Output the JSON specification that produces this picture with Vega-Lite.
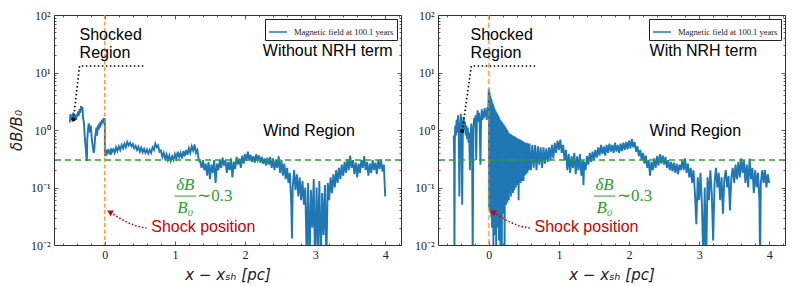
{
"$schema":"https://vega.github.io/schema/vega-lite/v6.json",
"padding":{"left":8,"top":8,"right":0,"bottom":0},
"spacing":10,
"datasets":{
"L":[{"x":-0.5,"y":1.35},{"x":-0.49,"y":1.9},{"x":-0.48,"y":1.5},{"x":-0.47,"y":1.8},{"x":-0.46,"y":1.4},{"x":-0.45,"y":2.0},{"x":-0.44,"y":1.6},{"x":-0.43,"y":1.45},{"x":-0.42,"y":1.8},{"x":-0.41,"y":1.5},{"x":-0.4,"y":1.9},{"x":-0.39,"y":1.7},{"x":-0.38,"y":2.1},{"x":-0.37,"y":1.8},{"x":-0.36,"y":2.3},{"x":-0.35,"y":2.0},{"x":-0.34,"y":2.6},{"x":-0.33,"y":2.2},{"x":-0.32,"y":2.5},{"x":-0.31,"y":1.6},{"x":-0.3,"y":1.4},{"x":-0.29,"y":0.9},{"x":-0.28,"y":0.6},{"x":-0.27,"y":0.45},{"x":-0.26,"y":0.3},{"x":-0.255,"y":0.3},{"x":-0.25,"y":0.7},{"x":-0.24,"y":1.0},{"x":-0.23,"y":1.3},{"x":-0.22,"y":1.1},{"x":-0.21,"y":0.9},{"x":-0.2,"y":1.2},{"x":-0.19,"y":0.8},{"x":-0.18,"y":0.6},{"x":-0.17,"y":0.5},{"x":-0.16,"y":0.4},{"x":-0.15,"y":0.45},{"x":-0.14,"y":0.7},{"x":-0.13,"y":0.9},{"x":-0.12,"y":1.1},{"x":-0.11,"y":0.8},{"x":-0.1,"y":1.2},{"x":-0.09,"y":1.0},{"x":-0.08,"y":1.3},{"x":-0.07,"y":1.1},{"x":-0.06,"y":1.4},{"x":-0.05,"y":1.2},{"x":-0.04,"y":1.5},{"x":-0.03,"y":1.3},{"x":-0.02,"y":1.6},{"x":-0.01,"y":1.4},{"x":0.0,"y":1.6},{"x":0.001,"y":0.35},{"x":0.01,"y":0.42},{"x":0.02,"y":0.36},{"x":0.03,"y":0.45},{"x":0.04,"y":0.38},{"x":0.05,"y":0.47},{"x":0.06,"y":0.4},{"x":0.07,"y":0.44},{"x":0.08,"y":0.37},{"x":0.09,"y":0.48},{"x":0.1,"y":0.41},{"x":0.12,"y":0.46},{"x":0.14,"y":0.4},{"x":0.16,"y":0.5},{"x":0.18,"y":0.43},{"x":0.2,"y":0.52},{"x":0.22,"y":0.45},{"x":0.24,"y":0.55},{"x":0.26,"y":0.48},{"x":0.28,"y":0.58},{"x":0.3,"y":0.5},{"x":0.32,"y":0.62},{"x":0.34,"y":0.54},{"x":0.36,"y":0.6},{"x":0.38,"y":0.52},{"x":0.4,"y":0.57},{"x":0.42,"y":0.48},{"x":0.44,"y":0.53},{"x":0.46,"y":0.45},{"x":0.48,"y":0.51},{"x":0.5,"y":0.42},{"x":0.52,"y":0.49},{"x":0.54,"y":0.41},{"x":0.56,"y":0.47},{"x":0.58,"y":0.4},{"x":0.6,"y":0.46},{"x":0.62,"y":0.39},{"x":0.64,"y":0.45},{"x":0.66,"y":0.4},{"x":0.68,"y":0.5},{"x":0.7,"y":0.45},{"x":0.72,"y":0.58},{"x":0.74,"y":0.5},{"x":0.76,"y":0.54},{"x":0.78,"y":0.42},{"x":0.8,"y":0.44},{"x":0.82,"y":0.34},{"x":0.84,"y":0.4},{"x":0.86,"y":0.32},{"x":0.88,"y":0.38},{"x":0.9,"y":0.3},{"x":0.92,"y":0.36},{"x":0.94,"y":0.29},{"x":0.96,"y":0.35},{"x":0.98,"y":0.3},{"x":1.0,"y":0.38},{"x":1.02,"y":0.32},{"x":1.04,"y":0.42},{"x":1.06,"y":0.34},{"x":1.08,"y":0.4},{"x":1.1,"y":0.32},{"x":1.12,"y":0.43},{"x":1.14,"y":0.35},{"x":1.16,"y":0.45},{"x":1.18,"y":0.37},{"x":1.2,"y":0.48},{"x":1.22,"y":0.4},{"x":1.24,"y":0.52},{"x":1.26,"y":0.44},{"x":1.28,"y":0.56},{"x":1.3,"y":0.4},{"x":1.32,"y":0.45},{"x":1.34,"y":0.3},{"x":1.36,"y":0.28},{"x":1.38,"y":0.22},{"x":1.4,"y":0.3},{"x":1.42,"y":0.2},{"x":1.44,"y":0.26},{"x":1.46,"y":0.16},{"x":1.48,"y":0.28},{"x":1.5,"y":0.14},{"x":1.52,"y":0.25},{"x":1.54,"y":0.18},{"x":1.56,"y":0.3},{"x":1.58,"y":0.12},{"x":1.6,"y":0.26},{"x":1.62,"y":0.2},{"x":1.64,"y":0.3},{"x":1.66,"y":0.22},{"x":1.68,"y":0.33},{"x":1.7,"y":0.24},{"x":1.72,"y":0.3},{"x":1.74,"y":0.18},{"x":1.76,"y":0.28},{"x":1.78,"y":0.2},{"x":1.8,"y":0.32},{"x":1.82,"y":0.15},{"x":1.84,"y":0.28},{"x":1.86,"y":0.21},{"x":1.88,"y":0.34},{"x":1.9,"y":0.25},{"x":1.92,"y":0.32},{"x":1.94,"y":0.22},{"x":1.96,"y":0.36},{"x":1.98,"y":0.26},{"x":2.0,"y":0.38},{"x":2.02,"y":0.29},{"x":2.04,"y":0.42},{"x":2.06,"y":0.3},{"x":2.08,"y":0.37},{"x":2.1,"y":0.28},{"x":2.12,"y":0.35},{"x":2.14,"y":0.27},{"x":2.16,"y":0.38},{"x":2.18,"y":0.3},{"x":2.2,"y":0.36},{"x":2.22,"y":0.27},{"x":2.24,"y":0.34},{"x":2.26,"y":0.26},{"x":2.28,"y":0.32},{"x":2.3,"y":0.24},{"x":2.32,"y":0.33},{"x":2.34,"y":0.25},{"x":2.36,"y":0.34},{"x":2.38,"y":0.22},{"x":2.4,"y":0.32},{"x":2.42,"y":0.2},{"x":2.44,"y":0.3},{"x":2.46,"y":0.22},{"x":2.48,"y":0.35},{"x":2.5,"y":0.18},{"x":2.52,"y":0.3},{"x":2.54,"y":0.16},{"x":2.56,"y":0.26},{"x":2.58,"y":0.14},{"x":2.6,"y":0.22},{"x":2.62,"y":0.12},{"x":2.64,"y":0.18},{"x":2.66,"y":0.05},{"x":2.67,"y":0.013},{"x":2.68,"y":0.1},{"x":2.7,"y":0.2},{"x":2.72,"y":0.09},{"x":2.74,"y":0.17},{"x":2.76,"y":0.07},{"x":2.78,"y":0.15},{"x":2.8,"y":0.06},{"x":2.82,"y":0.13},{"x":2.84,"y":0.05},{"x":2.86,"y":0.1},{"x":2.88,"y":0.005},{"x":2.9,"y":0.12},{"x":2.92,"y":0.004},{"x":2.94,"y":0.09},{"x":2.96,"y":0.02},{"x":2.98,"y":0.14},{"x":3.0,"y":0.003},{"x":3.02,"y":0.1},{"x":3.04,"y":0.01},{"x":3.06,"y":0.13},{"x":3.08,"y":0.004},{"x":3.1,"y":0.08},{"x":3.12,"y":0.015},{"x":3.14,"y":0.11},{"x":3.16,"y":0.005},{"x":3.18,"y":0.12},{"x":3.2,"y":0.06},{"x":3.22,"y":0.15},{"x":3.24,"y":0.08},{"x":3.26,"y":0.17},{"x":3.28,"y":0.1},{"x":3.3,"y":0.2},{"x":3.32,"y":0.12},{"x":3.34,"y":0.22},{"x":3.36,"y":0.14},{"x":3.38,"y":0.25},{"x":3.4,"y":0.16},{"x":3.42,"y":0.28},{"x":3.44,"y":0.18},{"x":3.46,"y":0.31},{"x":3.48,"y":0.2},{"x":3.5,"y":0.36},{"x":3.52,"y":0.22},{"x":3.54,"y":0.3},{"x":3.56,"y":0.17},{"x":3.58,"y":0.27},{"x":3.6,"y":0.15},{"x":3.62,"y":0.26},{"x":3.64,"y":0.18},{"x":3.66,"y":0.3},{"x":3.68,"y":0.22},{"x":3.7,"y":0.35},{"x":3.72,"y":0.2},{"x":3.74,"y":0.28},{"x":3.76,"y":0.16},{"x":3.78,"y":0.26},{"x":3.8,"y":0.18},{"x":3.82,"y":0.3},{"x":3.84,"y":0.2},{"x":3.86,"y":0.27},{"x":3.88,"y":0.17},{"x":3.9,"y":0.3},{"x":3.92,"y":0.21},{"x":3.94,"y":0.31},{"x":3.96,"y":0.19},{"x":3.98,"y":0.25},{"x":4.0,"y":0.07}],
"R":[{"x":-0.5,"y":0.8},{"x":-0.495,"y":0.35},{"x":-0.49,"y":0.005},{"x":-0.485,"y":0.6},{"x":-0.48,"y":1.2},{"x":-0.47,"y":0.8},{"x":-0.46,"y":1.5},{"x":-0.45,"y":0.9},{"x":-0.44,"y":1.8},{"x":-0.43,"y":1.0},{"x":-0.42,"y":0.07},{"x":-0.41,"y":1.1},{"x":-0.4,"y":1.9},{"x":-0.39,"y":1.3},{"x":-0.38,"y":0.05},{"x":-0.37,"y":1.2},{"x":-0.36,"y":1.7},{"x":-0.35,"y":1.0},{"x":-0.34,"y":1.4},{"x":-0.33,"y":0.8},{"x":-0.32,"y":1.2},{"x":-0.31,"y":0.7},{"x":-0.3,"y":1.1},{"x":-0.29,"y":0.6},{"x":-0.28,"y":0.9},{"x":-0.27,"y":0.2},{"x":-0.26,"y":0.8},{"x":-0.25,"y":1.3},{"x":-0.24,"y":0.9},{"x":-0.23,"y":0.006},{"x":-0.22,"y":1.0},{"x":-0.21,"y":1.6},{"x":-0.2,"y":1.2},{"x":-0.19,"y":1.8},{"x":-0.18,"y":0.3},{"x":-0.17,"y":1.5},{"x":-0.16,"y":2.2},{"x":-0.15,"y":1.4},{"x":-0.14,"y":2.0},{"x":-0.13,"y":1.3},{"x":-0.12,"y":0.25},{"x":-0.11,"y":1.6},{"x":-0.1,"y":2.3},{"x":-0.09,"y":1.5},{"x":-0.08,"y":2.1},{"x":-0.07,"y":1.6},{"x":-0.06,"y":2.4},{"x":-0.05,"y":1.7},{"x":-0.04,"y":2.2},{"x":-0.03,"y":1.5},{"x":-0.02,"y":2.5},{"x":-0.01,"y":1.8},{"x":0.0,"y":5.2},{"x":0.005,"y":0.045},{"x":0.01,"y":4.5},{"x":0.015,"y":0.04},{"x":0.02,"y":4.0},{"x":0.025,"y":0.035},{"x":0.03,"y":3.6},{"x":0.035,"y":0.03},{"x":0.04,"y":3.3},{"x":0.045,"y":0.02},{"x":0.05,"y":3.0},{"x":0.055,"y":0.03},{"x":0.06,"y":2.8},{"x":0.065,"y":0.008},{"x":0.07,"y":2.6},{"x":0.075,"y":0.028},{"x":0.08,"y":2.4},{"x":0.085,"y":0.015},{"x":0.09,"y":2.2},{"x":0.095,"y":0.03},{"x":0.1,"y":2.1},{"x":0.105,"y":0.006},{"x":0.11,"y":2.0},{"x":0.115,"y":0.032},{"x":0.12,"y":1.9},{"x":0.125,"y":0.02},{"x":0.13,"y":1.8},{"x":0.135,"y":0.035},{"x":0.14,"y":1.7},{"x":0.145,"y":0.012},{"x":0.15,"y":1.6},{"x":0.155,"y":0.04},{"x":0.16,"y":1.5},{"x":0.165,"y":0.009},{"x":0.17,"y":1.45},{"x":0.175,"y":0.045},{"x":0.18,"y":1.4},{"x":0.185,"y":0.005},{"x":0.19,"y":1.35},{"x":0.195,"y":0.05},{"x":0.2,"y":1.3},{"x":0.205,"y":0.035},{"x":0.21,"y":1.25},{"x":0.215,"y":0.055},{"x":0.22,"y":1.2},{"x":0.225,"y":0.007},{"x":0.23,"y":1.15},{"x":0.235,"y":0.06},{"x":0.24,"y":1.1},{"x":0.245,"y":0.05},{"x":0.25,"y":1.05},{"x":0.255,"y":0.065},{"x":0.26,"y":1.0},{"x":0.265,"y":0.055},{"x":0.27,"y":0.95},{"x":0.275,"y":0.07},{"x":0.28,"y":0.9},{"x":0.285,"y":0.06},{"x":0.29,"y":0.88},{"x":0.295,"y":0.08},{"x":0.3,"y":0.86},{"x":0.305,"y":0.085},{"x":0.31,"y":0.84},{"x":0.315,"y":0.07},{"x":0.32,"y":0.83},{"x":0.325,"y":0.09},{"x":0.33,"y":0.81},{"x":0.335,"y":0.1},{"x":0.34,"y":0.8},{"x":0.345,"y":0.08},{"x":0.35,"y":0.79},{"x":0.355,"y":0.1},{"x":0.36,"y":0.78},{"x":0.365,"y":0.09},{"x":0.37,"y":0.76},{"x":0.375,"y":0.11},{"x":0.38,"y":0.75},{"x":0.385,"y":0.1},{"x":0.39,"y":0.74},{"x":0.395,"y":0.12},{"x":0.4,"y":0.72},{"x":0.405,"y":0.11},{"x":0.41,"y":0.71},{"x":0.415,"y":0.12},{"x":0.42,"y":0.7},{"x":0.425,"y":0.06},{"x":0.43,"y":0.69},{"x":0.435,"y":0.12},{"x":0.44,"y":0.68},{"x":0.445,"y":0.13},{"x":0.45,"y":0.67},{"x":0.455,"y":0.12},{"x":0.46,"y":0.66},{"x":0.465,"y":0.14},{"x":0.47,"y":0.65},{"x":0.475,"y":0.13},{"x":0.48,"y":0.64},{"x":0.485,"y":0.15},{"x":0.49,"y":0.63},{"x":0.495,"y":0.13},{"x":0.5,"y":0.62},{"x":0.51,"y":0.16},{"x":0.52,"y":0.6},{"x":0.53,"y":0.17},{"x":0.54,"y":0.6},{"x":0.55,"y":0.18},{"x":0.56,"y":0.58},{"x":0.57,"y":0.2},{"x":0.58,"y":0.58},{"x":0.6,"y":0.2},{"x":0.62,"y":0.55},{"x":0.64,"y":0.22},{"x":0.66,"y":0.55},{"x":0.68,"y":0.2},{"x":0.7,"y":0.52},{"x":0.72,"y":0.25},{"x":0.74,"y":0.5},{"x":0.76,"y":0.22},{"x":0.78,"y":0.5},{"x":0.8,"y":0.26},{"x":0.82,"y":0.48},{"x":0.84,"y":0.28},{"x":0.86,"y":0.5},{"x":0.88,"y":0.3},{"x":0.9,"y":0.55},{"x":0.92,"y":0.32},{"x":0.94,"y":0.6},{"x":0.96,"y":0.4},{"x":0.98,"y":0.65},{"x":1.0,"y":0.45},{"x":1.02,"y":0.68},{"x":1.04,"y":0.4},{"x":1.06,"y":0.55},{"x":1.08,"y":0.3},{"x":1.1,"y":0.45},{"x":1.12,"y":0.2},{"x":1.14,"y":0.38},{"x":1.16,"y":0.18},{"x":1.18,"y":0.35},{"x":1.2,"y":0.22},{"x":1.22,"y":0.4},{"x":1.24,"y":0.17},{"x":1.26,"y":0.35},{"x":1.28,"y":0.2},{"x":1.3,"y":0.38},{"x":1.32,"y":0.16},{"x":1.34,"y":0.3},{"x":1.35,"y":0.11},{"x":1.36,"y":0.28},{"x":1.38,"y":0.2},{"x":1.4,"y":0.35},{"x":1.42,"y":0.25},{"x":1.44,"y":0.4},{"x":1.46,"y":0.28},{"x":1.48,"y":0.42},{"x":1.5,"y":0.3},{"x":1.52,"y":0.45},{"x":1.54,"y":0.33},{"x":1.56,"y":0.5},{"x":1.58,"y":0.36},{"x":1.6,"y":0.55},{"x":1.62,"y":0.38},{"x":1.64,"y":0.52},{"x":1.66,"y":0.36},{"x":1.68,"y":0.55},{"x":1.7,"y":0.4},{"x":1.72,"y":0.58},{"x":1.74,"y":0.42},{"x":1.76,"y":0.55},{"x":1.78,"y":0.4},{"x":1.8,"y":0.6},{"x":1.82,"y":0.42},{"x":1.84,"y":0.55},{"x":1.86,"y":0.4},{"x":1.88,"y":0.58},{"x":1.9,"y":0.43},{"x":1.92,"y":0.6},{"x":1.94,"y":0.45},{"x":1.96,"y":0.62},{"x":1.98,"y":0.46},{"x":2.0,"y":0.65},{"x":2.02,"y":0.48},{"x":2.04,"y":0.7},{"x":2.06,"y":0.5},{"x":2.08,"y":0.62},{"x":2.1,"y":0.42},{"x":2.12,"y":0.52},{"x":2.14,"y":0.35},{"x":2.16,"y":0.45},{"x":2.18,"y":0.3},{"x":2.2,"y":0.4},{"x":2.22,"y":0.26},{"x":2.24,"y":0.36},{"x":2.26,"y":0.22},{"x":2.28,"y":0.3},{"x":2.3,"y":0.16},{"x":2.32,"y":0.28},{"x":2.34,"y":0.2},{"x":2.36,"y":0.32},{"x":2.38,"y":0.22},{"x":2.4,"y":0.35},{"x":2.42,"y":0.24},{"x":2.44,"y":0.38},{"x":2.46,"y":0.26},{"x":2.48,"y":0.36},{"x":2.5,"y":0.25},{"x":2.52,"y":0.34},{"x":2.54,"y":0.22},{"x":2.56,"y":0.3},{"x":2.58,"y":0.2},{"x":2.6,"y":0.28},{"x":2.62,"y":0.19},{"x":2.64,"y":0.27},{"x":2.66,"y":0.18},{"x":2.68,"y":0.26},{"x":2.7,"y":0.17},{"x":2.72,"y":0.25},{"x":2.74,"y":0.2},{"x":2.76,"y":0.3},{"x":2.78,"y":0.2},{"x":2.8,"y":0.32},{"x":2.82,"y":0.18},{"x":2.84,"y":0.26},{"x":2.86,"y":0.15},{"x":2.88,"y":0.22},{"x":2.9,"y":0.12},{"x":2.92,"y":0.2},{"x":2.94,"y":0.08},{"x":2.96,"y":0.023},{"x":2.98,"y":0.15},{"x":3.0,"y":0.06},{"x":3.02,"y":0.18},{"x":3.04,"y":0.05},{"x":3.06,"y":0.005},{"x":3.08,"y":0.1},{"x":3.1,"y":0.004},{"x":3.12,"y":0.15},{"x":3.14,"y":0.06},{"x":3.16,"y":0.2},{"x":3.18,"y":0.08},{"x":3.2,"y":0.012},{"x":3.22,"y":0.12},{"x":3.24,"y":0.22},{"x":3.26,"y":0.1},{"x":3.28,"y":0.18},{"x":3.3,"y":0.06},{"x":3.32,"y":0.15},{"x":3.34,"y":0.035},{"x":3.36,"y":0.14},{"x":3.38,"y":0.2},{"x":3.4,"y":0.1},{"x":3.42,"y":0.16},{"x":3.44,"y":0.04},{"x":3.46,"y":0.15},{"x":3.48,"y":0.22},{"x":3.5,"y":0.12},{"x":3.52,"y":0.25},{"x":3.54,"y":0.14},{"x":3.56,"y":0.28},{"x":3.58,"y":0.15},{"x":3.6,"y":0.32},{"x":3.62,"y":0.18},{"x":3.64,"y":0.3},{"x":3.66,"y":0.12},{"x":3.68,"y":0.25},{"x":3.7,"y":0.1},{"x":3.72,"y":0.32},{"x":3.74,"y":0.14},{"x":3.76,"y":0.22},{"x":3.78,"y":0.08},{"x":3.8,"y":0.2},{"x":3.82,"y":0.1},{"x":3.84,"y":0.18},{"x":3.86,"y":0.06},{"x":3.87,"y":0.004},{"x":3.88,"y":0.12},{"x":3.9,"y":0.2},{"x":3.92,"y":0.12},{"x":3.94,"y":0.2},{"x":3.96,"y":0.1},{"x":3.98,"y":0.17},{"x":4.0,"y":0.12}]
},
"resolve":{"scale":{"color":"independent"},"legend":{"color":"independent"}},
"hconcat":[
{
"width":347,"height":230,
"resolve":{"axis":{"x":"independent","y":"independent"}},
"layer":[
{"data":{"name":"L"},"mark":{"type":"line","strokeWidth":1.9,"clip":true},
 "encoding":{
  "x":{"field":"x","type":"quantitative","scale":{"domain":[-0.725,4.225],"nice":false,"zero":false},
       "axis":{"orient":"bottom","values":[0,1,2,3,4],"tickSize":-4,"labelPadding":8,"title":"x − xₛₕ [pc]","titleFontStyle":"italic","titlePadding":7}},
  "y":{"field":"y","type":"quantitative","scale":{"type":"log","domain":[0.01,100],"nice":false},
       "axis":{"orient":"left","values":[0.01,0.1,1,10,100],"tickSize":-4,"labelPadding":8,"labelExpr":"datum.value==100?'10²':datum.value==10?'10¹':datum.value==1?'10⁰':datum.value==0.1?'10⁻¹':'10⁻²'","title":"δB/B₀","titleFontStyle":"italic","titlePadding":6}},
  "color":{"datum":"Magnetic field at 100.1 years","type":"nominal","scale":{"range":["#1f77b4"]},
       "legend":{"orient":"top-right","offset":4,"title":null}}
 }},
{"data":{"values":[{"x":0}]},"mark":{"type":"rule","color":"#ff7f0e","strokeDash":[4,2.5],"strokeWidth":1.2},
 "encoding":{"x":{"field":"x","type":"quantitative","axis":{"orient":"bottom","values":[-0.6,-0.4,-0.2,0.2,0.4,0.6,0.8,1.2,1.4,1.6,1.8,2.2,2.4,2.6,2.8,3.2,3.4,3.6,3.8,4.2],"tickSize":-2,"labels":false,"title":null}}}},
{"data":{"values":[{"y":0.3}]},"mark":{"type":"rule","color":"#2ca02c","strokeDash":[6,4],"strokeWidth":1.5},
 "encoding":{"y":{"field":"y","type":"quantitative","axis":{"orient":"left","values":[0.02,0.03,0.04,0.05,0.06,0.07,0.08,0.09,0.2,0.3,0.4,0.5,0.6,0.7,0.8,0.9,2,3,4,5,6,7,8,9,20,30,40,50,60,70,80,90],"tickSize":-2,"labels":false,"title":null}}}},
{"data":{"values":[{"x":-0.447,"y":1.535},{"x":-0.361,"y":12.97},{"x":0.58,"y":12.97}]},"mark":{"type":"line","color":"black","strokeDash":[1.5,2.5],"strokeWidth":1.6},
 "encoding":{"x":{"field":"x","type":"quantitative","axis":{"orient":"top","values":[0,1,2,3,4],"tickSize":-4,"labels":false,"title":null}},
  "y":{"field":"y","type":"quantitative","axis":{"orient":"right","values":[0.01,0.1,1,10,100],"tickSize":-4,"labels":false,"title":null}}}},
{"data":{"values":[{"x":0.595,"y":0.0198},{"x":0.45,"y":0.0215},{"x":0.3,"y":0.0255},{"x":0.16,"y":0.032},{"x":0.08,"y":0.037}]},"mark":{"type":"line","color":"#cc0000","strokeDash":[1.5,2],"strokeWidth":1.6,"interpolate":"monotone"},
 "encoding":{"x":{"field":"x","type":"quantitative","axis":{"orient":"top","values":[-0.6,-0.4,-0.2,0.2,0.4,0.6,0.8,1.2,1.4,1.6,1.8,2.2,2.4,2.6,2.8,3.2,3.4,3.6,3.8,4.2],"tickSize":-2,"labels":false,"title":null}},
  "y":{"field":"y","type":"quantitative","axis":{"orient":"right","values":[0.02,0.03,0.04,0.05,0.06,0.07,0.08,0.09,0.2,0.3,0.4,0.5,0.6,0.7,0.8,0.9,2,3,4,5,6,7,8,9,20,30,40,50,60,70,80,90],"tickSize":-2,"labels":false,"title":null}}}},
{"data":{"values":[{"x":0.07,"y":0.0375}]},"mark":{"type":"point","shape":"triangle-left","filled":true,"color":"#cc0000","size":45,"angle":30,"opacity":1},
 "encoding":{"x":{"field":"x","type":"quantitative","axis":null},"y":{"field":"y","type":"quantitative","axis":null}}},
{"data":{"values":[{"x":-0.447,"y":1.535}]},"mark":{"type":"point","shape":"circle","filled":true,"color":"black","size":16,"opacity":1},
 "encoding":{"x":{"field":"x","type":"quantitative","axis":null},"y":{"field":"y","type":"quantitative","axis":null}}},
{"data":{"values":[{"x":-0.361,"y":36.7,"t":"Shocked"},{"x":-0.36,"y":18.1,"t":"Region"},{"x":2.254,"y":19.4,"t":"Without NRH term"},{"x":2.26,"y":0.787,"t":"Wind Region"}]},
 "mark":{"type":"text","align":"left","baseline":"alphabetic","font":"Liberation Sans","fontSize":16,"color":"black"},
 "encoding":{"x":{"field":"x","type":"quantitative","axis":null},"y":{"field":"y","type":"quantitative","axis":null},"text":{"field":"t"}}},
{"data":{"values":[{"x":0.662,"y":0.0168,"t":"Shock position"}]},
 "mark":{"type":"text","align":"left","baseline":"alphabetic","font":"Liberation Sans","fontSize":16,"color":"#cc0000"},
 "encoding":{"x":{"field":"x","type":"quantitative","axis":null},"y":{"field":"y","type":"quantitative","axis":null},"text":{"field":"t"}}},
{"data":{"values":[{"x":1.148,"y":0.0888,"t":"δB"},{"x":1.148,"y":0.0365,"t":"B₀"}]},
 "mark":{"type":"text","align":"center","baseline":"alphabetic","font":"Liberation Serif","fontStyle":"italic","fontSize":17,"color":"#2ca02c"},
 "encoding":{"x":{"field":"x","type":"quantitative","axis":null},"y":{"field":"y","type":"quantitative","axis":null},"text":{"field":"t"}}},
{"data":{"values":[{"x":1.318,"y":0.0582,"t":"∼0.3"}]},
 "mark":{"type":"text","align":"left","baseline":"alphabetic","font":"Liberation Serif","fontSize":17,"color":"#2ca02c"},
 "encoding":{"x":{"field":"x","type":"quantitative","axis":null},"y":{"field":"y","type":"quantitative","axis":null},"text":{"field":"t"}}},
{"data":{"values":[{"x":0.994,"x2":1.303,"y":0.071}]},"mark":{"type":"rule","color":"#2ca02c","strokeWidth":1},
 "encoding":{"x":{"field":"x","type":"quantitative","axis":null},"x2":{"field":"x2"},"y":{"field":"y","type":"quantitative","axis":null}}}
]
},
{
"width":347,"height":230,
"resolve":{"axis":{"x":"independent","y":"independent"}},
"layer":[
{"data":{"name":"R"},"mark":{"type":"line","strokeWidth":1.9,"clip":true},
 "encoding":{
  "x":{"field":"x","type":"quantitative","scale":{"domain":[-0.725,4.225],"nice":false,"zero":false},
       "axis":{"orient":"bottom","values":[0,1,2,3,4],"tickSize":-4,"labelPadding":8,"title":"x − xₛₕ [pc]","titleFontStyle":"italic","titlePadding":7}},
  "y":{"field":"y","type":"quantitative","scale":{"type":"log","domain":[0.01,100],"nice":false},
       "axis":{"orient":"left","values":[0.01,0.1,1,10,100],"tickSize":-4,"labelPadding":8,"labelExpr":"datum.value==100?'10²':datum.value==10?'10¹':datum.value==1?'10⁰':datum.value==0.1?'10⁻¹':'10⁻²'","title":null}},
  "color":{"datum":"Magnetic field at 100.1 years","type":"nominal","scale":{"range":["#1f77b4"]},
       "legend":{"orient":"top-right","offset":4,"title":null}}
 }},
{"data":{"values":[{"x":0}]},"mark":{"type":"rule","color":"#ff7f0e","strokeDash":[5,3],"strokeWidth":2,"opacity":0.6},
 "encoding":{"x":{"field":"x","type":"quantitative","axis":{"orient":"bottom","values":[-0.6,-0.4,-0.2,0.2,0.4,0.6,0.8,1.2,1.4,1.6,1.8,2.2,2.4,2.6,2.8,3.2,3.4,3.6,3.8,4.2],"tickSize":-2,"labels":false,"title":null}}}},
{"data":{"values":[{"y":0.3}]},"mark":{"type":"rule","color":"#2ca02c","strokeDash":[6,4],"strokeWidth":1.5},
 "encoding":{"y":{"field":"y","type":"quantitative","axis":{"orient":"left","values":[0.02,0.03,0.04,0.05,0.06,0.07,0.08,0.09,0.2,0.3,0.4,0.5,0.6,0.7,0.8,0.9,2,3,4,5,6,7,8,9,20,30,40,50,60,70,80,90],"tickSize":-2,"labels":false,"title":null}}}},
{"data":{"values":[{"x":-0.379,"y":0.96},{"x":-0.25,"y":12.97},{"x":0.675,"y":12.97}]},"mark":{"type":"line","color":"black","strokeDash":[1.5,2.5],"strokeWidth":1.6},
 "encoding":{"x":{"field":"x","type":"quantitative","axis":{"orient":"top","values":[0,1,2,3,4],"tickSize":-4,"labels":false,"title":null}},
  "y":{"field":"y","type":"quantitative","axis":{"orient":"right","values":[0.01,0.1,1,10,100],"tickSize":-4,"labels":false,"title":null}}}},
{"data":{"values":[{"x":0.584,"y":0.0198},{"x":0.44,"y":0.0215},{"x":0.29,"y":0.0255},{"x":0.15,"y":0.032},{"x":0.065,"y":0.037}]},"mark":{"type":"line","color":"#cc0000","strokeDash":[1.5,2],"strokeWidth":1.6,"interpolate":"monotone"},
 "encoding":{"x":{"field":"x","type":"quantitative","axis":{"orient":"top","values":[-0.6,-0.4,-0.2,0.2,0.4,0.6,0.8,1.2,1.4,1.6,1.8,2.2,2.4,2.6,2.8,3.2,3.4,3.6,3.8,4.2],"tickSize":-2,"labels":false,"title":null}},
  "y":{"field":"y","type":"quantitative","axis":{"orient":"right","values":[0.02,0.03,0.04,0.05,0.06,0.07,0.08,0.09,0.2,0.3,0.4,0.5,0.6,0.7,0.8,0.9,2,3,4,5,6,7,8,9,20,30,40,50,60,70,80,90],"tickSize":-2,"labels":false,"title":null}}}},
{"data":{"values":[{"x":0.055,"y":0.0375}]},"mark":{"type":"point","shape":"triangle-left","filled":true,"color":"#cc0000","size":45,"angle":30,"opacity":1},
 "encoding":{"x":{"field":"x","type":"quantitative","axis":null},"y":{"field":"y","type":"quantitative","axis":null}}},
{"data":{"values":[{"x":-0.379,"y":0.96}]},"mark":{"type":"point","shape":"circle","filled":true,"color":"black","size":16,"opacity":1},
 "encoding":{"x":{"field":"x","type":"quantitative","axis":null},"y":{"field":"y","type":"quantitative","axis":null}}},
{"data":{"values":[{"x":-0.261,"y":36.7,"t":"Shocked"},{"x":-0.26,"y":18.1,"t":"Region"},{"x":2.293,"y":19.4,"t":"With NRH term"},{"x":2.293,"y":0.787,"t":"Wind Region"}]},
 "mark":{"type":"text","align":"left","baseline":"alphabetic","font":"Liberation Sans","fontSize":16,"color":"black"},
 "encoding":{"x":{"field":"x","type":"quantitative","axis":null},"y":{"field":"y","type":"quantitative","axis":null},"text":{"field":"t"}}},
{"data":{"values":[{"x":0.651,"y":0.0168,"t":"Shock position"}]},
 "mark":{"type":"text","align":"left","baseline":"alphabetic","font":"Liberation Sans","fontSize":16,"color":"#cc0000"},
 "encoding":{"x":{"field":"x","type":"quantitative","axis":null},"y":{"field":"y","type":"quantitative","axis":null},"text":{"field":"t"}}},
{"data":{"values":[{"x":1.651,"y":0.0888,"t":"δB"},{"x":1.651,"y":0.0365,"t":"B₀"}]},
 "mark":{"type":"text","align":"center","baseline":"alphabetic","font":"Liberation Serif","fontStyle":"italic","fontSize":17,"color":"#2ca02c"},
 "encoding":{"x":{"field":"x","type":"quantitative","axis":null},"y":{"field":"y","type":"quantitative","axis":null},"text":{"field":"t"}}},
{"data":{"values":[{"x":1.829,"y":0.0582,"t":"∼0.3"}]},
 "mark":{"type":"text","align":"left","baseline":"alphabetic","font":"Liberation Serif","fontSize":17,"color":"#2ca02c"},
 "encoding":{"x":{"field":"x","type":"quantitative","axis":null},"y":{"field":"y","type":"quantitative","axis":null},"text":{"field":"t"}}},
{"data":{"values":[{"x":1.496,"x2":1.805,"y":0.071}]},"mark":{"type":"rule","color":"#2ca02c","strokeWidth":1},
 "encoding":{"x":{"field":"x","type":"quantitative","axis":null},"x2":{"field":"x2"},"y":{"field":"y","type":"quantitative","axis":null}}}
]
}
],
"config":{
 "font":"Liberation Sans",
 "view":{"stroke":"#333333","strokeWidth":1},
 "axis":{"grid":false,"domain":false,"tickColor":"#333333","tickWidth":0.8,"labelFont":"Liberation Serif","labelFontSize":12,"labelColor":"#222222","titleFont":"DejaVu Sans","titleFontSize":15,"titleFontWeight":"normal","titleColor":"#222222"},
 "legend":{"strokeColor":"#222222","fillColor":"white","padding":3,"labelFont":"Liberation Serif","labelFontSize":8.5,"labelColor":"#222222","symbolType":"stroke","symbolStrokeWidth":1.5,"symbolSize":320,"labelOffset":6,"cornerRadius":0}
}
}
